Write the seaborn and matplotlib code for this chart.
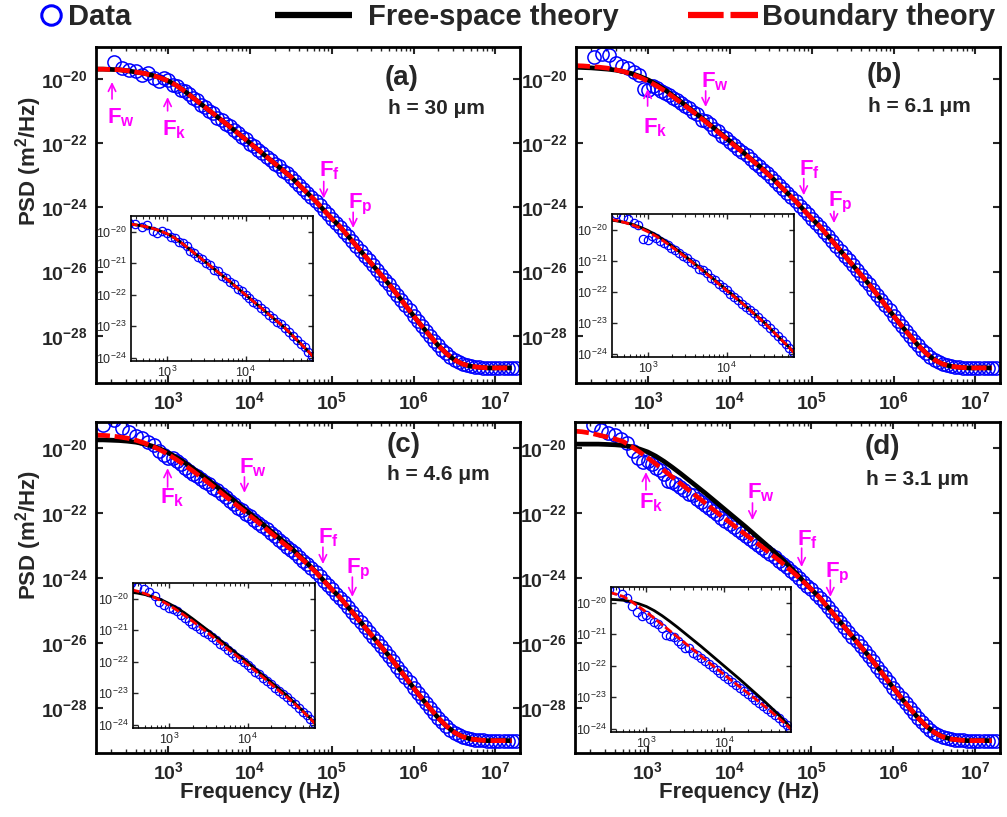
import numpy as np
import matplotlib
matplotlib.use("Agg")
import matplotlib.pyplot as plt
import seaborn as sns
from matplotlib.lines import Line2D
from matplotlib.ticker import FixedLocator, FuncFormatter, LogLocator, NullLocator, NullFormatter

sns.set_theme(style="ticks")
plt.rcParams["font.family"] = ["Liberation Sans", "DejaVu Sans"]
plt.rcParams.update({
    "mathtext.fontset": "custom",
    "mathtext.rm": "Liberation Sans",
    "mathtext.it": "Liberation Sans:italic",
    "mathtext.bf": "Liberation Sans:bold",
    "mathtext.sf": "Liberation Sans",
    "axes.unicode_minus": True,
})

# ---------------- data (log10 values) ----------------
panel_tags = ["(a)", "(b)", "(c)", "(d)"]
heights = ["h = 30 μm", "h = 6.1 μm", "h = 4.6 μm", "h = 3.1 μm"]
legend_labels = ["Data", "Free-space theory", "Boundary theory"]

# theory curves: log10(f) grid and log10(PSD)
theory_logf_low = [2.1, 2.2, 2.3, 2.4, 2.5, 2.6, 2.7, 2.8, 2.9, 3.0,
                   3.1, 3.2, 3.3, 3.4, 3.5, 3.6, 3.7, 3.8, 3.9, 4.0,
                   4.1, 4.2, 4.3, 4.4, 4.5, 4.6, 4.7, 4.8, 4.9, 5.0]
theory_logf_high = [5.1, 5.2, 5.3, 5.4, 5.5, 5.6, 5.7, 5.8, 5.9, 6.0, 6.1,
                    6.2, 6.3, 6.4, 6.5, 6.6, 6.7, 6.8, 6.9, 7.0, 7.1, 7.2]
theory_high = [-24.60, -24.90, -25.20, -25.50, -25.80, -26.10, -26.40, -26.72,
               -27.05, -27.38, -27.70, -28.00, -28.30, -28.55, -28.75, -28.88,
               -28.95, -28.98, -29.00, -29.00, -29.00, -29.00]

free_a = [-19.69, -19.69, -19.70, -19.71, -19.74, -19.78, -19.82, -19.88, -19.96, -20.06,
          -20.20, -20.38, -20.58, -20.78, -20.98, -21.18, -21.38, -21.58, -21.79, -22.00,
          -22.21, -22.42, -22.63, -22.84, -23.05, -23.30, -23.55, -23.80, -24.08, -24.35]
bound_a = [-19.69, -19.69, -19.70, -19.71, -19.74, -19.78, -19.82, -19.88, -19.96, -20.06,
           -20.20, -20.38, -20.58, -20.78, -20.98, -21.18, -21.38, -21.58, -21.79, -22.00,
           -22.21, -22.42, -22.63, -22.84, -23.05, -23.30, -23.55, -23.80, -24.08, -24.35]
free_b = [-19.63, -19.64, -19.65, -19.67, -19.69, -19.72, -19.77, -19.83, -19.92, -20.03,
          -20.17, -20.33, -20.52, -20.71, -20.91, -21.11, -21.31, -21.52, -21.73, -21.94,
          -22.15, -22.37, -22.59, -22.81, -23.04, -23.30, -23.55, -23.80, -24.08, -24.35]
bound_b = [-19.58, -19.59, -19.61, -19.63, -19.66, -19.71, -19.77, -19.85, -19.95, -20.07,
           -20.21, -20.37, -20.55, -20.74, -20.93, -21.13, -21.33, -21.54, -21.75, -21.96,
           -22.17, -22.38, -22.60, -22.82, -23.05, -23.30, -23.55, -23.80, -24.08, -24.35]
free_c = [-19.75, -19.75, -19.76, -19.77, -19.79, -19.82, -19.87, -19.94, -20.03, -20.15,
          -20.29, -20.45, -20.63, -20.82, -21.01, -21.21, -21.41, -21.61, -21.82, -22.02,
          -22.23, -22.44, -22.65, -22.86, -23.07, -23.31, -23.55, -23.80, -24.08, -24.35]
bound_c = [-19.60, -19.61, -19.63, -19.66, -19.70, -19.76, -19.84, -19.94, -20.06, -20.20,
           -20.36, -20.53, -20.71, -20.90, -21.09, -21.29, -21.49, -21.69, -21.89, -22.09,
           -22.29, -22.50, -22.71, -22.92, -23.12, -23.34, -23.57, -23.81, -24.08, -24.35]
free_d = [-19.88, -19.88, -19.88, -19.88, -19.89, -19.90, -19.92, -19.96, -20.03, -20.12,
          -20.25, -20.41, -20.59, -20.78, -20.98, -21.18, -21.38, -21.59, -21.80, -22.01,
          -22.22, -22.43, -22.65, -22.87, -23.09, -23.32, -23.56, -23.82, -24.09, -24.35]
bound_d = [-19.48, -19.50, -19.54, -19.60, -19.66, -19.72, -19.80, -19.95, -20.12, -20.30,
           -20.49, -20.69, -20.89, -21.09, -21.29, -21.49, -21.69, -21.89, -22.09, -22.28,
           -22.48, -22.67, -22.86, -23.05, -23.25, -23.45, -23.66, -23.88, -24.11, -24.35]

# measured data: log10(f) grid and log10(PSD)
data_logf_low = [2.20, 2.33, 2.43, 2.52, 2.60, 2.68, 2.75, 2.82, 2.88, 2.94,
                 3.00, 3.05, 3.10, 3.15, 3.20, 3.25, 3.30, 3.35, 3.40, 3.45,
                 3.50, 3.55, 3.60, 3.65, 3.70, 3.75, 3.80, 3.85, 3.90, 3.95,
                 4.00, 4.05, 4.10, 4.15, 4.20, 4.25, 4.30, 4.35, 4.40, 4.45,
                 4.50, 4.55, 4.60, 4.65, 4.70, 4.75, 4.80, 4.85, 4.90, 4.95]
data_logf_high = [5.00, 5.05, 5.10, 5.15, 5.20, 5.25, 5.30, 5.35, 5.40, 5.45,
                  5.50, 5.55, 5.60, 5.65, 5.70, 5.75, 5.80, 5.85, 5.90, 5.95,
                  6.00, 6.05, 6.10, 6.15, 6.20, 6.25, 6.30, 6.35, 6.40, 6.45,
                  6.50, 6.55, 6.60, 6.65, 6.70, 6.75, 6.80, 6.85, 6.90, 6.95,
                  7.00, 7.05, 7.10, 7.15, 7.20, 7.25]
data_high = [-24.35, -24.48, -24.60, -24.75, -24.90, -25.05, -25.20, -25.35, -25.50, -25.65,
             -25.80, -25.95, -26.10, -26.25, -26.40, -26.56, -26.72, -26.88, -27.05, -27.21,
             -27.38, -27.54, -27.70, -27.85, -28.00, -28.15, -28.30, -28.43, -28.55, -28.66,
             -28.75, -28.82, -28.88, -28.92, -28.95, -28.97, -28.98, -28.99, -29.00, -29.00,
             -29.00, -29.00, -29.00, -29.00, -29.00, -29.00]

data_a = [np.nan, -19.47, -19.66, -19.72, -19.74, -19.86, -19.80, -19.97, -20.05, -19.98,
          -20.03, -20.17, -20.20, -20.34, -20.36, -20.45, -20.60, -20.66, -20.80, -20.86,
          -20.99, -21.06, -21.20, -21.26, -21.40, -21.46, -21.60, -21.67, -21.80, -21.88,
          -22.01, -22.09, -22.22, -22.30, -22.43, -22.51, -22.64, -22.72, -22.85, -22.93,
          -23.05, -23.17, -23.31, -23.42, -23.56, -23.67, -23.81, -23.93, -24.08, -24.20]
data_b = [np.nan, -19.30, -19.22, -19.25, -19.50, -19.60, -19.66, -19.78, -19.86, -20.30,
          -20.35, -20.20, -20.28, -20.36, -20.42, -20.50, -20.58, -20.66, -20.74, -20.85,
          -20.90, -21.04, -21.10, -21.26, -21.30, -21.40, -21.56, -21.62, -21.76, -21.84,
          -21.96, -22.06, -22.17, -22.28, -22.38, -22.49, -22.60, -22.70, -22.82, -22.93,
          -23.05, -23.17, -23.30, -23.42, -23.55, -23.68, -23.80, -23.94, -24.08, -24.21]
data_c = [-19.29, -19.14, -19.38, -19.50, -19.62, -19.70, -19.80, -19.90, -20.10, -20.20,
          -20.30, -20.32, -20.40, -20.50, -20.60, -20.70, -20.80, -20.86, -20.95, -21.04,
          -21.12, -21.22, -21.30, -21.42, -21.50, -21.62, -21.72, -21.84, -21.90, -22.02,
          -22.10, -22.20, -22.31, -22.40, -22.50, -22.62, -22.72, -22.82, -22.93, -23.03,
          -23.13, -23.24, -23.35, -23.46, -23.58, -23.70, -23.82, -23.95, -24.08, -24.21]
data_d = [np.nan, -19.30, -19.45, -19.55, -19.60, -19.72, -19.85, -20.10, -20.30, -20.43,
          -20.40, -20.50, -20.62, -20.68, -20.80, -21.02, -21.05, -21.10, -21.20, -21.30,
          -21.42, -21.45, -21.58, -21.66, -21.76, -21.84, -21.94, -22.04, -22.14, -22.24,
          -22.33, -22.42, -22.52, -22.60, -22.70, -22.80, -22.88, -22.98, -23.08, -23.18,
          -23.27, -23.36, -23.46, -23.56, -23.66, -23.77, -23.88, -23.99, -24.11, -24.23]

# markers F_x: (subscript, arrow log f, head log PSD, tail log PSD, text log f, text baseline log PSD)
marks_a = [("w", 2.31, -20.09, -20.62, 2.25, -21.39), ("k", 2.99, -20.56, -20.99, 2.92, -21.76),
           ("f", 4.90, -23.72, -23.19, 4.84, -23.03), ("p", 5.26, -24.64, -24.15, 5.20, -24.02)]
marks_b = [("k", 2.99, -20.31, -20.84, 2.93, -21.70), ("w", 3.70, -20.87, -20.37, 3.64, -20.25),
           ("f", 4.90, -23.62, -23.10, 4.84, -23.00), ("p", 5.27, -24.49, -24.12, 5.20, -23.96)]
marks_c = [("k", 2.99, -20.62, -21.20, 2.90, -21.69), ("w", 3.93, -21.38, -20.89, 3.86, -20.77),
           ("f", 4.89, -23.57, -23.05, 4.83, -22.92), ("p", 5.25, -24.58, -23.97, 5.17, -23.85)]
marks_d = [("k", 2.98, -20.74, -21.29, 2.90, -21.85), ("w", 4.28, -22.22, -21.69, 4.21, -21.54),
           ("f", 4.88, -23.66, -23.08, 4.82, -22.98), ("p", 5.23, -24.58, -24.06, 5.16, -23.97)]

# ---------------- styling / layout ----------------
BLUE = "#0000ff"
MAG = "#ff00ff"
W, H = 1007, 817

axes_px = [(96, 47, 424, 336), (576, 47, 424, 336), (96, 422, 424, 331), (575, 422, 425, 331)]
inset_px = [(131, 216, 182, 145), (612, 214, 182, 143), (133, 583, 182, 145), (611, 587, 180, 145)]
ylims = [(10**-29.47, 10**-19.0), (10**-29.47, 10**-19.0),
         (10**-29.38, 10**-19.2), (10**-29.38, 10**-19.2)]
tag_px = [(385, 78, 388, 108), (867, 75, 868, 106), (387, 445, 387, 475), (865, 447, 866, 479)]


def fig_rect(x, y, w, h):
    return [x / W, 1 - (y + h) / H, w / W, h / H]


fig = plt.figure(figsize=(W / 100, H / 100), dpi=100)
fig.patch.set_facecolor("white")

bold_fmt = FuncFormatter(lambda v, p: r"$\mathbf{10^{%d}}$" % int(round(np.log10(v))))
reg_fmt = FuncFormatter(lambda v, p: r"$\mathrm{10^{%d}}$" % int(round(np.log10(v))))

panels = [
    (data_a, free_a, bound_a, marks_a),
    (data_b, free_b, bound_b, marks_b),
    (data_c, free_c, bound_c, marks_c),
    (data_d, free_d, bound_d, marks_d),
]


def draw_curves(ax, dat, free, bound, ms, mew, lw, dash):
    lf = np.array(data_logf_low + data_logf_high)
    lp = np.array(list(dat) + data_high)
    ok = ~np.isnan(lp)
    sns.lineplot(x=10 ** lf[ok], y=10 ** lp[ok], ax=ax, estimator=None, sort=False,
                 marker="o", linestyle="none", markersize=ms, markerfacecolor="none",
                 markeredgecolor=BLUE, markeredgewidth=mew, color=BLUE, legend=False)
    ln = ax.lines[-1]
    ln.set_markerfacecolor("none"); ln.set_markeredgecolor(BLUE); ln.set_linestyle("none")
    tf = 10 ** np.array(theory_logf_low + theory_logf_high)
    sns.lineplot(x=tf, y=10 ** np.array(free + theory_high), ax=ax, estimator=None,
                 sort=False, color="black", linewidth=lw, legend=False)
    ax.lines[-1].set_solid_capstyle("butt")
    sns.lineplot(x=tf, y=10 ** np.array(bound + theory_high), ax=ax, estimator=None,
                 sort=False, color="red", linewidth=lw, legend=False)
    ax.lines[-1].set_linestyle((0, dash))


for i, (dat, free, bound, marks) in enumerate(panels):
    ax = fig.add_axes(fig_rect(*axes_px[i]))
    ax.set_xscale("log"); ax.set_yscale("log")
    draw_curves(ax, dat, free, bound, ms=9.5, mew=1.1, lw=3.4, dash=(3.2, 1.0))
    ax.set_xlim(130, 2.0e7)
    ax.set_ylim(*ylims[i])
    ax.xaxis.set_major_locator(FixedLocator([1e3, 1e4, 1e5, 1e6, 1e7]))
    ax.xaxis.set_minor_locator(LogLocator(base=10, subs=np.arange(2, 10), numticks=20))
    ax.xaxis.set_major_formatter(bold_fmt)
    ax.xaxis.set_minor_formatter(NullFormatter())
    ax.yaxis.set_major_locator(FixedLocator([1e-28, 1e-26, 1e-24, 1e-22, 1e-20]))
    ax.yaxis.set_minor_locator(NullLocator())
    ax.yaxis.set_major_formatter(bold_fmt)
    ax.tick_params(which="both", direction="in", top=True, right=True)
    ax.tick_params(which="major", length=5, width=1.5, labelsize=14, pad=6)
    ax.tick_params(which="minor", length=3, width=1.0)
    for s in ax.spines.values():
        s.set_linewidth(2.0); s.set_color("black")
    ax.set_xlabel(""); ax.set_ylabel("")
    if i % 2 == 0:
        ax.set_ylabel(r"PSD (m$^{\mathbf{2}}$/Hz)", fontsize=16, fontweight="bold")
        ax.yaxis.set_label_coords(-0.122, 0.66)
    if i >= 2:
        ax.set_xlabel("Frequency (Hz)", fontsize=16, fontweight="bold")
        ax.xaxis.set_label_coords(0.387, -0.088)

    for sub, af, head, tail, tf_, tb in marks:
        ax.annotate("", xy=(10 ** af, 10 ** head), xytext=(10 ** af, 10 ** tail),
                    arrowprops=dict(arrowstyle="->,head_length=0.45,head_width=0.22",
                                    color=MAG, lw=1.2, shrinkA=0, shrinkB=0))
        ax.text(10 ** tf_, 10 ** tb, r"$\mathbf{F}_{\mathbf{%s}}$" % sub, color=MAG,
                fontsize=16, ha="left", va="baseline")

    tx, ty, hx, hy = tag_px[i]
    fig.text(tx / W, 1 - ty / H, panel_tags[i], fontsize=20, fontweight="bold",
             ha="left", va="center")
    fig.text(hx / W, 1 - hy / H, heights[i], fontsize=15, fontweight="bold",
             ha="left", va="center")

    # inset
    axi = fig.add_axes(fig_rect(*inset_px[i]))
    axi.set_xscale("log"); axi.set_yscale("log")
    draw_curves(axi, dat, free, bound, ms=6.0, mew=0.9, lw=2.0, dash=(3.0, 1.0))
    axi.set_xlim(350, 7.2e4)
    axi.set_ylim(10**-24.1, 10**-19.5)
    axi.xaxis.set_major_locator(FixedLocator([1e3, 1e4]))
    axi.xaxis.set_minor_locator(LogLocator(base=10, subs=np.arange(2, 10), numticks=20))
    axi.xaxis.set_major_formatter(reg_fmt)
    axi.xaxis.set_minor_formatter(NullFormatter())
    axi.yaxis.set_major_locator(FixedLocator([1e-24, 1e-23, 1e-22, 1e-21, 1e-20]))
    axi.yaxis.set_minor_locator(NullLocator())
    axi.yaxis.set_major_formatter(reg_fmt)
    axi.tick_params(which="both", direction="in", top=True, right=True)
    axi.tick_params(which="major", length=3.5, width=1.0, labelsize=9, pad=3)
    axi.tick_params(which="minor", length=2, width=0.8)
    for s in axi.spines.values():
        s.set_linewidth(1.2); s.set_color("black")
    axi.set_xlabel(""); axi.set_ylabel("")

# legend across the top
prop = dict(weight="bold", size=21)
h_data = Line2D([], [], marker="o", linestyle="none", markersize=14, markerfacecolor="none",
                markeredgecolor=BLUE, markeredgewidth=2.2)
h_free = Line2D([], [], color="black", linewidth=4.5, solid_capstyle="butt")
h_bound = Line2D([], [], color="red", linewidth=4.5, linestyle=(0, (5.7, 1.1)))
yleg = 1 - 17 / H
for h, lab, x0, hl, tp in [(h_data, legend_labels[0], 36, 1.0, 0.1),
                           (h_free, legend_labels[1], 275, 2.64, 0.55),
                           (h_bound, legend_labels[2], 688, 2.4, 0.14)]:
    fig.legend(handles=[h], labels=[lab], loc="center left", bbox_to_anchor=(x0 / W, yleg),
               frameon=False, prop=prop, handlelength=hl, handletextpad=tp,
               borderpad=0, borderaxespad=0, numpoints=1)

fig.savefig("out.png", dpi=100, facecolor="white")
